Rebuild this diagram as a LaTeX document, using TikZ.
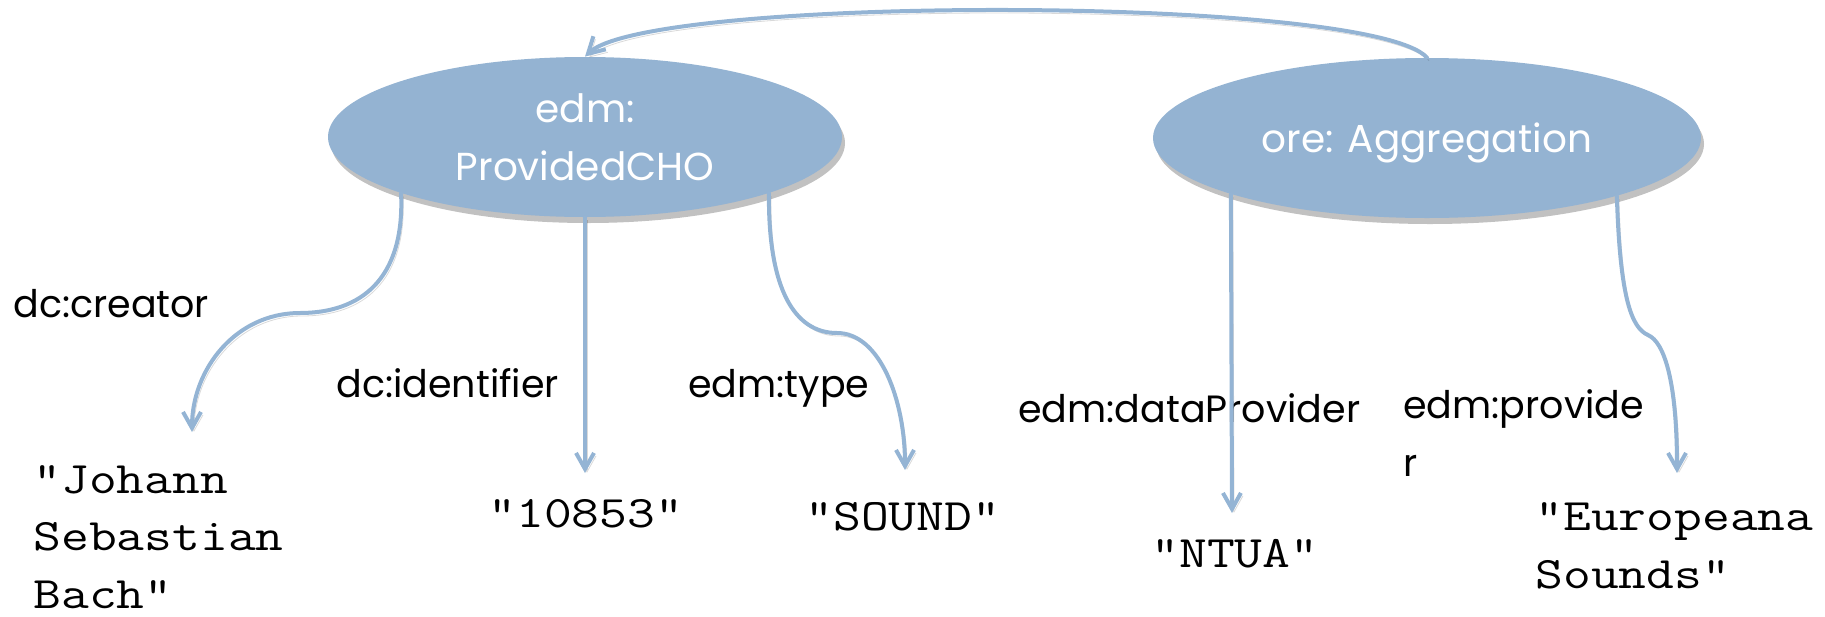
\documentclass[tikz,border=0pt]{standalone}
\usepackage{fontspec}
\usetikzlibrary{shapes.geometric,arrows.meta,shadows}
\newfontfamily\labfont{Poppins}
\newfontfamily\litfont[FakeStretch=1.2]{Latin Modern Mono}
\definecolor{nodeblue}{RGB}{148,179,210}
\definecolor{edgeblue}{RGB}{148,180,212}
\begin{document}
\begin{tikzpicture}[x=0.5pt,y=-0.5pt,
  cls/.style={ellipse, fill=nodeblue, draw=none, text=white, inner sep=0pt,
    font=\labfont\fontsize{19.5pt}{29pt}\selectfont, align=center,
    drop shadow={shadow xshift=1.5pt, shadow yshift=-3pt, opacity=0.35, fill=black!70}},
  prop/.style={anchor=base west, inner sep=0pt, font=\labfont\fontsize{19pt}{29pt}\selectfont, align=left},
  lit/.style={anchor=base west, inner sep=0pt, font=\litfont\fontsize{22.5pt}{28.75pt}\selectfont, align=left},
  rel/.style={draw=edgeblue, line width=2pt, line cap=round,
    -{Straight Barb[length=8pt,width=9pt]},
    preaction={draw=black, opacity=0.15, transform canvas={shift={(1pt,-1.5pt)}}}},
]
\useasboundingbox (0,0) rectangle (1825,616);
% classes
\node[cls, minimum width=257pt, minimum height=80pt] (cho) at (585,137) {edm:\\ProvidedCHO};
\node[cls, minimum width=274pt, minimum height=80pt, text depth=0pt] (agg) at (1427,138) {ore: Aggregation};
% property labels
\node[prop] (lcre) at (13,317) {dc:creator};
\node[prop] (lid) at (336,397) {dc:identifier};
\node[prop] (ltyp) at (688,397) {edm:type};
\node[prop] (ldp) at (1018,422) {edm:dataProvider};
\node[prop] (lpr) at (1403,476) {edm:provide\\r};
% literals (base = baseline of the last line)
\node[lit] (vbach) at (33,608) {“Johann\\Sebastian\\Bach”};
\node[lit] (vid) at (488,527) {“10853”};
\node[lit] (vsound) at (805,530) {“SOUND”};
\node[lit] (vntua) at (1151,567) {“NTUA”};
\node[lit] (veur) at (1535,588) {“Europeana\\Sounds”};
% arrow tips
\coordinate (tbach) at (192,432);
\coordinate (tid) at (585,473);
\coordinate (tsound) at (905,470);
\coordinate (tntua) at (1232,513);
\coordinate (teur) at (1677,473);
% connectors
\draw[rel] (cho.197.9) .. controls (405,280) and (360,313) .. (300,313)
   .. controls (235,313) and (192,370) .. (tbach);
\draw[rel] (cho.south) -- (tid);
\draw[rel] (cho.343) .. controls (768,290) and (795,333) .. (837,333)
   .. controls (880,333) and (905,400) .. (tsound);
\draw[rel] (agg.196.5) -- (tntua);
\draw[rel] (agg.343.5) .. controls (1620,300) and (1632,328) .. (1648,335)
   .. controls (1664,342) and (1677,380) .. (teur);
\draw[rel] (agg.north) .. controls (1370,-5) and (650,-5) .. (cho.north);
\end{tikzpicture}
\end{document}
